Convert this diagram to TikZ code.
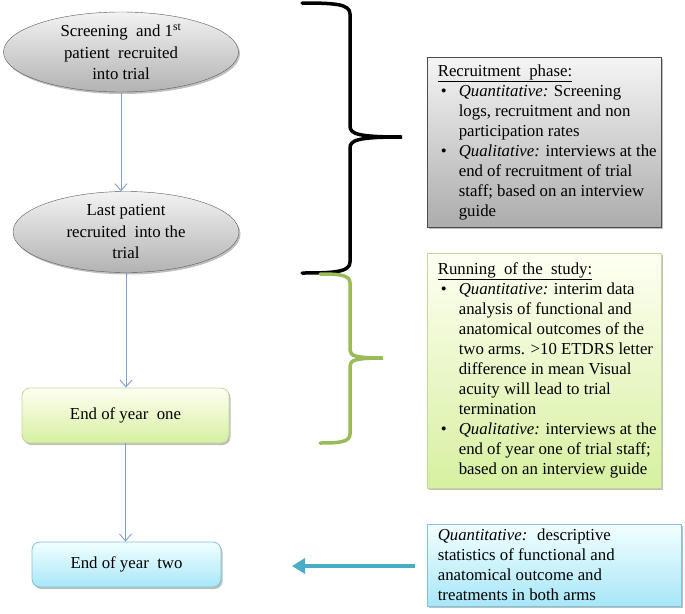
\documentclass[tikz,border=0pt]{standalone}
\usepackage{fontspec}
\setmainfont{Liberation Serif}
\usetikzlibrary{positioning}
\usetikzlibrary{arrows.meta, calc}
\usetikzlibrary{shapes.geometric}
\usetikzlibrary{shadows}

\definecolor{flowblue}{HTML}{7F9FD3}
\definecolor{tealarrow}{HTML}{4BACC6}
\definecolor{bracegreen}{HTML}{9BBB59}
\definecolor{greenline}{HTML}{C3D69B}
\definecolor{cyanline}{HTML}{7DC3DC}

\newcommand{\bulitem}{\hspace*{3pt}\makebox[18pt][l]{\textbullet}}
\newcommand{\bulcont}{\hspace*{21pt}}

\begin{document}
\begin{tikzpicture}
  [
    x=1pt, y=-1pt,
    >=stealth,
    shadowed/.style = {drop shadow={opacity=0.5, shadow xshift=1.5pt, shadow yshift=-2pt}},
    phase/.style   = {ellipse, draw=gray!70!black, top color=gray!10, bottom color=gray!60,
                      minimum width=235pt, minimum height=80pt, inner sep=0pt, align=center,
                      font=\fontsize{16.8}{21.5}\selectfont, shadowed},
    yearbox/.style = {rectangle, rounded corners=8pt, inner sep=0pt,
                      font=\fontsize{16.8}{20}\selectfont, shadowed},
    greenfill/.style = {draw=greenline, line width=0.8pt, top color=green!5!yellow!5, bottom color={rgb,255:red,214;green,240;blue,160}},
    cyanfill/.style  = {draw=cyanline, line width=0.8pt, top color=cyan!5, bottom color={rgb,255:red,168;green,230;blue,248}},
    infobox/.style = {rectangle, minimum width=234pt, inner sep=0pt, shadowed},
    boxtext/.style = {anchor=west, align=left, inner sep=0pt, font=\fontsize{16.8}{20}\selectfont},
    flow/.style    = {draw=flowblue, line width=0.9pt, -{Straight Barb[length=7pt,width=12pt]}},
    bigarrow/.style = {draw=tealarrow, line width=4pt, -{Triangle[length=13pt,width=15pt]}},
    brace/.style   = {line width=3.5pt, line cap=round},
  ]

  \useasboundingbox (0,0) rectangle (685,613);

  % flow of the trial
  \node[phase] (screen) at (121,52) {Screening \ and 1\textsuperscript{st}\\patient \ recruited\\into trial};
  \node[phase, minimum width=226pt, minimum height=81pt] (lastpat) at (126,232) {Last patient\\recruited \ into the\\trial};
  \node[yearbox, greenfill, minimum width=207pt, minimum height=55pt] (yearone) at (125.5,415.5) {End of year \ one};
  \node[yearbox, cyanfill, minimum width=189pt, minimum height=45pt] (yeartwo) at (126.5,564.5) {End of year \ two};

  \draw[flow] (screen.south) -- (screen.south |- lastpat.north);
  \draw[flow] (lastpat.south) -- (lastpat.south |- yearone.north);
  \draw[flow] (yearone.south) -- (yearone.south |- yeartwo.north);

  % the boxes on the right
  \node[infobox, draw=gray!60!black, line width=0.8pt, top color=gray!8, bottom color=gray!65,
        minimum height=170pt] (recphase) at (544,142) {};
  \node[boxtext] (rectext) at ([xshift=11pt]recphase.west) {%
    \underline{Recruitment \ phase:}\\
    \bulitem\textit{Quantitative:} Screening\\
    \bulcont logs, recruitment and non\\
    \bulcont participation rates\\
    \bulitem\textit{Qualitative:} interviews at the\\
    \bulcont end of recruitment of trial\\
    \bulcont staff; based on an interview\\
    \bulcont guide};

  \node[infobox, greenfill, minimum height=235pt] (running) at (544,370.5) {};
  \node[boxtext] (runtext) at ([xshift=11pt]running.west) {%
    \underline{Running \ of the \ study:}\\
    \bulitem\textit{Quantitative:} interim data\\
    \bulcont analysis of functional and\\
    \bulcont anatomical outcomes of the\\
    \bulcont two arms. >10 ETDRS letter\\
    \bulcont difference in mean Visual\\
    \bulcont acuity will lead to trial\\
    \bulcont termination\\
    \bulitem\textit{Qualitative:} interviews at the\\
    \bulcont end of year one of trial staff;\\
    \bulcont based on an interview guide};

  \node[infobox, cyanfill, minimum width=254pt, minimum height=82pt] (descr) at (554,565) {};
  \node[boxtext] (desctext) at ([xshift=11pt]descr.west) {%
    \textit{Quantitative:} \ descriptive\\
    statistics of functional and\\
    anatomical outcome and\\
    treatments in both arms};

  % arrow into end of year two
  \coordinate (tealtail) at (415,566);
  \coordinate (tealhead) at (292,566);
  \draw[bigarrow] (tealtail) -- (tealhead);

  % the braces
  \draw[brace, black]
    (302,3) .. controls (335,3) and (350,4) .. (350,14)
    -- (350,126) .. controls (350,134) and (358,137) .. (402,137)
    .. controls (358,137) and (350,140) .. (350,148)
    -- (350,262) .. controls (350,272) and (335,273) .. (302,273);
  \draw[brace, bracegreen]
    (320,274) .. controls (340,274) and (350,275) .. (350,283)
    -- (350,350) .. controls (350,356) and (356,358) .. (383,358)
    .. controls (356,358) and (350,360) .. (350,366)
    -- (350,434) .. controls (350,442) and (340,443) .. (320,443);

\end{tikzpicture}
\end{document}
